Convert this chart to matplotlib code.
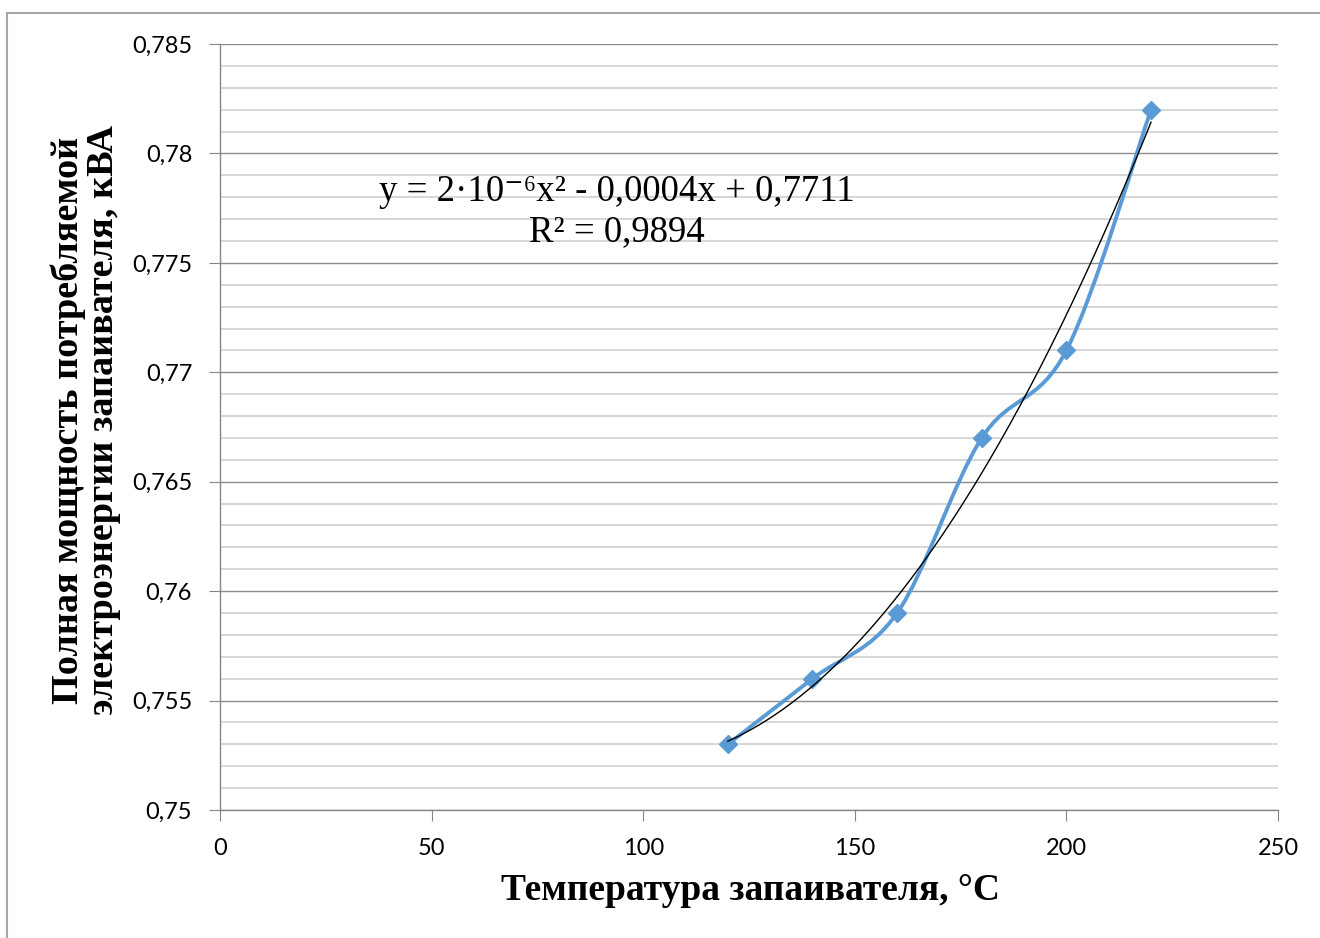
import numpy as np
import matplotlib
matplotlib.use('Agg')
import matplotlib.pyplot as plt
from matplotlib.path import Path
from matplotlib.patches import PathPatch, Rectangle
from matplotlib.ticker import MultipleLocator, FuncFormatter

# данные: температура запаивателя и полная мощность
temp = [120, 140, 160, 180, 200, 220]
power = [0.753, 0.756, 0.759, 0.767, 0.771, 0.782]

x_label = 'Температура запаивателя, °C'
y_label = 'Полная мощность потребляемой\nэлектроэнергии запаивателя, кВА'
eq_text = 'y = 2·10⁻⁶x² - 0,0004x + 0,7711\nR² = 0,9894'

blue = '#5B9BD5'
serif = ['Liberation Serif', 'DejaVu Serif']

fig = plt.figure(figsize=(13.2, 9.38), dpi=100)
ax = fig.add_axes([220/1320, 1-810/938, (1278-220)/1320, (810-44)/938])

# рамка области диаграммы
fig.patches.append(Rectangle((7/1320, -0.05), 1.2, 1-13/938+0.05, transform=fig.transFigure,
                             fill=False, edgecolor='#A6A6A6', linewidth=1.5))

ax.set_xlim(0, 250)
ax.set_ylim(0.75, 0.785)
ax.xaxis.set_major_locator(MultipleLocator(50))
ax.yaxis.set_major_locator(MultipleLocator(0.005))
ax.yaxis.set_minor_locator(MultipleLocator(0.001))
ax.yaxis.set_major_formatter(FuncFormatter(lambda v, p: ('%g' % round(v, 3)).replace('.', ',')))

ax.grid(which='major', axis='y', color='#8C8C8C', linewidth=1.0)
ax.grid(which='minor', axis='y', color='#D0D0D0', linewidth=1.2)
ax.set_axisbelow(True)
for s in ['top', 'right']:
    ax.spines[s].set_visible(False)
for s in ['left', 'bottom']:
    ax.spines[s].set_color('#868686')
    ax.spines[s].set_linewidth(1.0)
ax.tick_params(which='major', length=8, color='#868686', labelsize=17, pad=12)
ax.tick_params(which='minor', length=0)
for lab in ax.get_xticklabels() + ax.get_yticklabels():
    lab.set_family(['Lato', 'DejaVu Sans'])

# сглаженная линия (кривые Безье как в Excel)
pts = np.column_stack([temp, power])
verts = [pts[0]]
codes = [Path.MOVETO]
n = len(pts)
for i in range(n - 1):
    p0 = pts[max(i - 1, 0)]
    p1 = pts[i]
    p2 = pts[i + 1]
    p3 = pts[min(i + 2, n - 1)]
    verts += [p1 + (p2 - p0) / 6, p2 - (p3 - p1) / 6, p2]
    codes += [Path.CURVE4] * 3
ax.add_patch(PathPatch(Path(verts, codes), fill=False, edgecolor=blue, linewidth=2.8, zorder=3))
ax.plot(temp, power, linestyle='none', marker='D', markersize=9.5, color=blue, zorder=4)

# полиномиальный тренд 2-й степени
coef = np.polyfit(temp, power, 2)
xt = np.linspace(min(temp), max(temp), 200)
ax.plot(xt, np.polyval(coef, xt), color='black', linewidth=1.0, zorder=5)

fig.text(617/1320, 1-212/938, eq_text, ha='center', va='center',
         fontsize=26.5, family=serif, linespacing=1.2)

fig.text(86/1320, 1-420/938, y_label, rotation=90, ha='center', va='center',
         fontsize=27.5, fontweight='bold', family=serif, linespacing=1.0)
fig.text(750/1320, 1-890/938, x_label, ha='center', va='center',
         fontsize=27, fontweight='bold', family=serif)

fig.savefig('out.png', dpi=100)
